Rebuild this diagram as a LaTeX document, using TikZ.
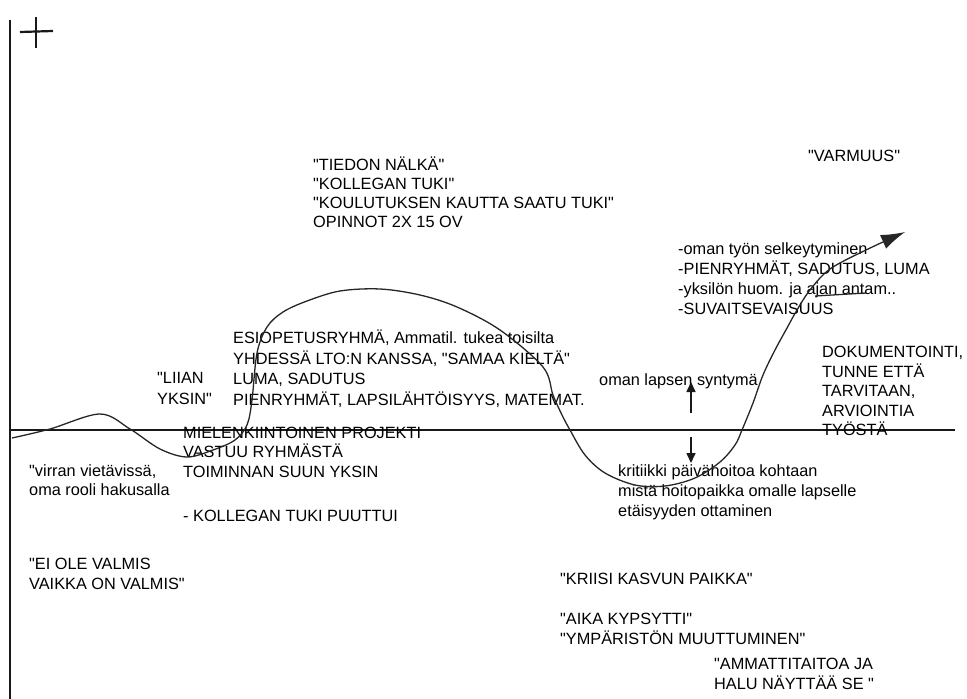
\documentclass[tikz,border=0pt]{standalone}
\usepackage{fontspec}
\setmainfont{Liberation Sans}[Ligatures=TeXOff]
\usetikzlibrary{arrows.meta}
\begin{document}
\begin{tikzpicture}[x=1pt,y=-1pt,
  txt/.style={anchor=base west, inner sep=0pt, font=\fontsize{16.3}{20}\selectfont, text=black},
  axisline/.style={line width=2pt, draw=black!90},
  curveline/.style={line width=1.3pt, draw=black!85},
  smallarrow/.style={line width=1.6pt, draw=black!90, -{Triangle[length=10pt,width=9pt]}}]
\useasboundingbox (0,0) rectangle (967,699);

% axes
\coordinate (ytop) at (10,20);
\coordinate (ybot) at (10,699);
\coordinate (xleft) at (10,430);
\coordinate (xright) at (955,430);
\draw[axisline, line width=2.4pt] (ytop) -- (ybot);
\draw[axisline, line width=1.8pt] (xleft) -- (xright);

% plus sign
\coordinate (ph1) at (20,32); \coordinate (ph2) at (53,31);
\coordinate (pv1) at (36,17); \coordinate (pv2) at (36,48);
\draw[axisline, line width=2.2pt] (ph1) -- (ph2);
\draw[axisline, line width=2.2pt] (pv1) -- (pv2);

% labels
\node[txt] (t1) at (313,170) {"TIEDON NÄLKÄ"};
\node[txt] (t2) at (313,189) {"KOLLEGAN TUKI"};
\node[txt] (t3) at (313,208) {"KOULUTUKSEN KAUTTA SAATU TUKI"};
\node[txt] (t4) at (313,227) {OPINNOT 2X 15 OV};

\node[txt] (varm) at (808,161) {"VARMUUS"};

\node[txt] (o1) at (678,254) {-oman työn selkeytyminen};
\node[txt] (o2) at (678,274) {-PIENRYHMÄT, SADUTUS, LUMA};
\node[txt] (o3) at (678,294) {-yksilön huom. ja ajan antam..};
\node[txt] (o4) at (678,314) {-SUVAITSEVAISUUS};

\node[txt] (e1) at (233,343) {ESIOPETUSRYHMÄ, Ammatil. tukea toisilta};
\node[txt] (e2) at (233,364) {YHDESSÄ LTO:N KANSSA, "SAMAA KIELTÄ"};
\node[txt] (e3) at (233,384) {LUMA, SADUTUS};
\node[txt] (e4) at (233,405) {PIENRYHMÄT, LAPSILÄHTÖISYYS, MATEMAT.};

\node[txt] (l1) at (157,383) {"LIIAN};
\node[txt] (l2) at (157,404) {YKSIN"};

\node[txt] (syn) at (599,385) {oman lapsen syntymä};

\node[txt] (d1) at (822,357) {DOKUMENTOINTI,};
\node[txt] (d2) at (822,377) {TUNNE ETTÄ};
\node[txt] (d3) at (822,396) {TARVITAAN,};
\node[txt] (d4) at (822,416) {ARVIOINTIA};
\node[txt] (d5) at (822,435) {TYÖSTÄ};

\node[txt] (m1) at (183,438) {MIELENKIINTOINEN PROJEKTI};
\node[txt] (m2) at (183,457) {VASTUU RYHMÄSTÄ};
\node[txt] (m3) at (183,477) {TOIMINNAN SUUN YKSIN};
\node[txt] (m4) at (183,521) {- KOLLEGAN TUKI PUUTTUI};

\node[txt] (v1) at (29,476) {"virran vietävissä,};
\node[txt] (v2) at (29,495) {oma rooli hakusalla};

\node[txt] (ei1) at (29,569) {"EI OLE VALMIS};
\node[txt] (ei2) at (29,589) {VAIKKA ON VALMIS"};

\node[txt] (k1) at (618,476) {kritiikki päivähoitoa kohtaan};
\node[txt] (k2) at (618,496) {mistä hoitopaikka omalle lapselle};
\node[txt] (k3) at (618,516) {etäisyyden ottaminen};

\node[txt] (kr) at (560,584) {"KRIISI KASVUN PAIKKA"};
\node[txt] (a1) at (560,624) {"AIKA KYPSYTTI"};
\node[txt] (a2) at (560,644) {"YMPÄRISTÖN MUUTTUMINEN"};
\node[txt] (am1) at (714,669) {"AMMATTITAITOA JA};
\node[txt] (am2) at (714,689) {HALU NÄYTTÄÄ SE "};

% arrows around the birth of the own child
\coordinate (upfrom) at (691,413); \coordinate (upto) at (691,382);
\coordinate (dnfrom) at (691,437); \coordinate (dnto) at (691,463);
\draw[smallarrow] (upfrom) -- (upto);
\draw[smallarrow] (dnfrom) -- (dnto);

% the development curve
\draw[curveline, -{Latex[length=24pt,width=15pt]}]
  plot[smooth, tension=0.55] coordinates {
  (12,438) (50,429) (100,414) (130,429) (160,449) (187,457) (213,450)
  (235,440) (247,425) (252,400) (257,353) (267,327) (283,312) (307,301)
  (340,291) (380,289) (420,295) (457,307) (500,330) (543,367) (553,395)
  (562,415) (570,430) (585,455) (605,473) (635,485) (665,486) (695,478)
  (720,462) (735,445) (742,430) (753,403) (763,375) (775,350) (787,328)
  (797,310) (810,290) (830,269) (866,250) (905,232)};

% stroke over the word antam
\coordinate (st1) at (815,296); \coordinate (st2) at (866,293);
\draw[curveline] (st1) -- (st2);
\end{tikzpicture}
\end{document}
